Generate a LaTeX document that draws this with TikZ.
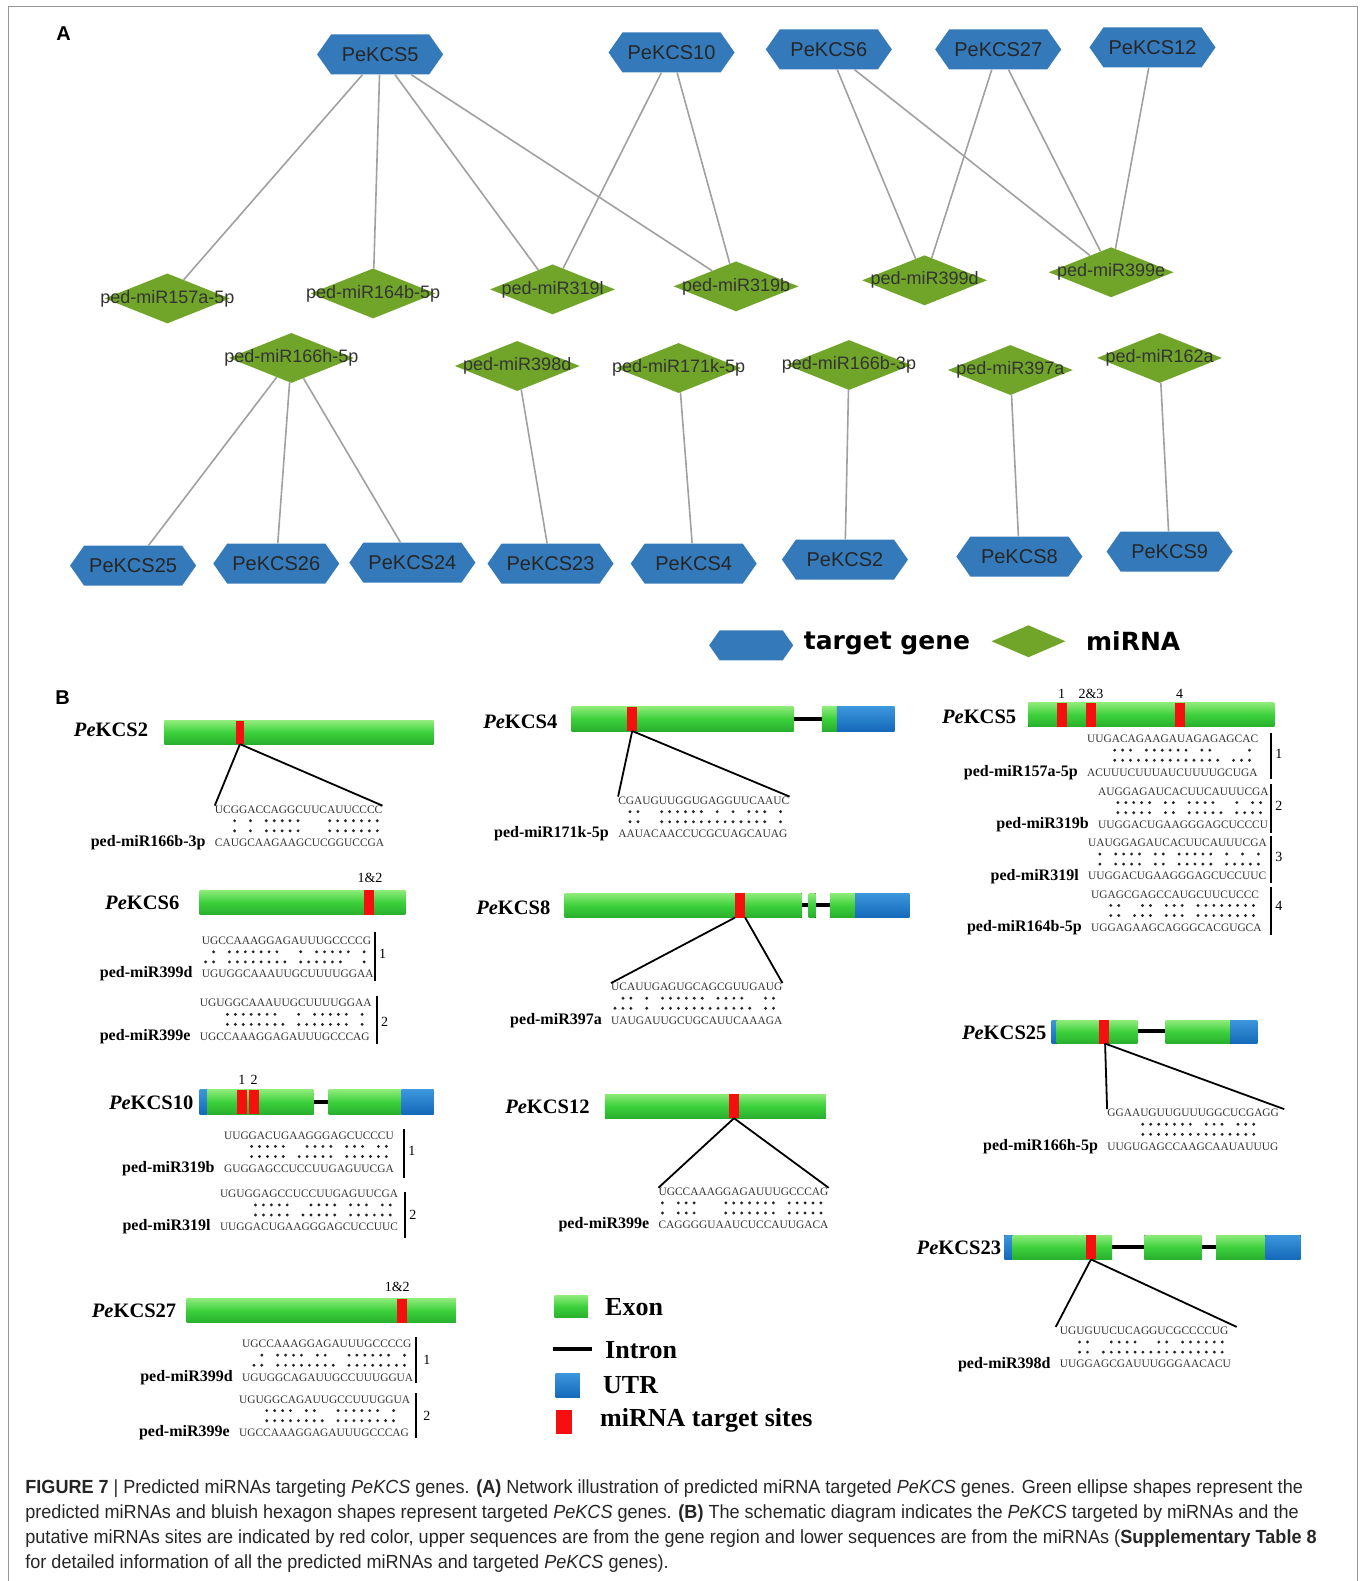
\documentclass[tikz,border=0pt]{standalone}
\usepackage{fontspec}
\setmainfont{Liberation Serif}
\newfontfamily\arialfont{Liberation Sans}
\newfontfamily\legendfont{DejaVu Sans}
\newfontfamily\capfont[FakeStretch=0.95]{Liberation Sans}
\usepackage{tikz}
\usetikzlibrary{shapes.geometric,shapes.symbols,positioning}
\usepackage{xcolor}
\definecolor{kcsblue}{RGB}{52,122,187}
\definecolor{mirgreen}{RGB}{112,165,42}
\definecolor{linkgray}{RGB}{160,160,160}
\definecolor{exhi}{RGB}{140,235,120}
\definecolor{exmid}{RGB}{60,208,60}
\definecolor{exlo}{RGB}{40,175,45}
\definecolor{utrhi}{RGB}{60,150,220}
\definecolor{utrlo}{RGB}{20,105,185}
\definecolor{sitered}{RGB}{245,15,15}
\definecolor{framegray}{RGB}{150,150,150}
\tikzset{
  kcs/.style={signal,signal to=east and west,signal pointer angle=110,fill=kcsblue,
    minimum width=126pt,minimum height=40pt,inner sep=0pt,text=black!85,
    font=\arialfont\fontsize{20}{20}\selectfont},
  mir/.style={diamond,fill=mirgreen,minimum width=125pt,minimum height=50pt,inner sep=0pt,
    text=black!80,font=\arialfont\fontsize{18}{18}\selectfont},
  mirlink/.style={linkgray,line width=1.6pt},
  panellab/.style={inner sep=0pt,font=\arialfont\bfseries\fontsize{20}{20}\selectfont},
  exon/.style={top color=exhi,bottom color=exlo,middle color=exmid},
  utr/.style={top color=utrhi,bottom color=utrlo},
  tsite/.style={fill=sitered},
  intron/.style={black,line width=4pt},
  zoomline/.style={black,line width=1.8pt},
  seq/.style={inner sep=0pt,text=black!80,font=\fontsize{11.4}{12}\selectfont},
  mirlab/.style={inner sep=0pt,font=\bfseries\fontsize{16}{16}\selectfont},
  genelab/.style={inner sep=0pt,anchor=east,font=\bfseries\fontsize{20.5}{20}\selectfont},
  num/.style={inner sep=0pt,font=\fontsize{14}{14}\selectfont},
  vbar/.style={black,line width=2pt},
  legtext/.style={inner sep=0pt,anchor=west,font=\bfseries\fontsize{26}{26}\selectfont},
}
\newcommand{\zw}[1]{\makebox[0pt]{#1}}
\newcommand{\gname}[1]{\textit{Pe}KCS#1}
% duplex: name, x, y, upper sequence, dots 1, dots 2, lower sequence, miRNA
\newcommand{\duplex}[8]{%
  \node[seq,anchor=west] (#1t) at (#2,#3) {#4};
  \foreach \k in {#5} \fill[black!85] (#2+\k*7.86-3.9,#3+11) circle (1.6pt);
  \foreach \k in {#6} \fill[black!85] (#2+\k*7.86-3.9,#3+21) circle (1.6pt);
  \node[seq,anchor=west] (#1b) at (#2,#3+33) {#7};
  \node[mirlab,left=9pt of #1b] (#1m) {#8};}

\begin{document}
\begin{tikzpicture}[x=1.008pt,y=-1.008pt]
  \useasboundingbox (0,0) rectangle (1349,1568);
  \draw[framegray,line width=0.8pt] (8,1568) -- (8,6) -- (1346,6) -- (1346,1568);

  % A: network
  \node[panellab] (labA) at (63,33) {A};
  \foreach \n/\x/\y in {5/377/54,10/666/52,6/822/49,27/990/49,12/1143/47,
                        25/132/561,26/274/559,24/409/558,23/546/559,4/688/559,
                        2/838/555,8/1011/552,9/1160/547}
    \node[kcs] (k\n) at (\x,\y) {PeKCS\n};
  \foreach \id/\lab/\x/\y in {m157a/157a-5p/166/296,m164b/164b-5p/370/291,m319l/319l/548/287,
                              m319b/319b/730/284,m399d/399d/917/278,m399e/399e/1102/270,
                              m166h/166h-5p/289/355,m398d/398d/513/363,m171k/171k-5p/673/365,
                              m166b/166b-3p/842/362,m397a/397a/1002/367,m162a/162a/1150/355}
    \node[mir] (\id) at (\x,\y) {\zw{ped-miR\lab}};
  \foreach \a/\b in {k5/m157a,k5/m164b,k5/m319l,k5/m319b,k10/m319l,k10/m319b,
                     k6/m399d,k6/m399e,k27/m399d,k27/m399e,k12/m399e,
                     m166h/k25,m166h/k26,m166h/k24,m398d/k23,m171k/k4,
                     m166b/k2,m397a/k8,m162a/k9}
    \draw[mirlink] (\a) -- (\b);
  \node[kcs,minimum width=84pt,minimum height=30pt] (legk) at (745,640) {};
  \node[inner sep=0pt,anchor=west,font=\legendfont\bfseries\fontsize{25}{25}\selectfont]
    (legkt) at (797,638) {target gene};
  \node[mir,minimum width=74pt,minimum height=32pt] (legm) at (1020,636) {};
  \node[inner sep=0pt,anchor=west,font=\legendfont\bfseries\fontsize{25}{25}\selectfont]
    (legmt) at (1077,636) {miRNA};

  % B: target sites
  \node[panellab] (labB) at (62,692) {B};

  \node[genelab] (g2) at (147,724) {\gname{2}};
  \fill[exon] (163,715) rectangle (430,738);
  \fill[tsite] (234,715) rectangle (242,738);
  \coordinate (g2s) at (238,738);
  \duplex{g2a}{213}{803}{UCGGACCAGGCUUCAUUCCCC}{3,5,7,8,9,10,11,15,16,17,18,19,20,21}
    {3,5,7,8,9,10,11,15,16,17,18,19,20,21}{CAUGCAAGAAGCUCGGUCCGA}{ped-miR166b-3p}
  \draw[zoomline] (g2s) -- (g2at.north west);
  \draw[zoomline] (g2s) -- (g2at.north east);

  \node[genelab] (g6) at (178,895) {\gname{6}};
  \fill[exon] (198,883) rectangle (402,907);
  \fill[tsite] (361,883) rectangle (371,907);
  \node[num] (g6n) at (367,871) {1\&2};
  \duplex{g6a}{200}{933}{UGCCAAAGGAGAUUUGCCCCG}{2,4,5,6,7,8,9,10,13,15,16,17,18,19,21}
    {1,2,4,5,6,7,8,9,10,11,13,14,15,16,17,18,21}{UGUGGCAAAUUGCUUUUGGAA}{ped-miR399d}
  \draw[vbar] (372,924) -- (372,973) node[num,pos=0.45,right=3pt] (g6v1) {1};
  \duplex{g6b}{198}{995}{UGUGGCAAAUUGCUUUUGGAA}{4,5,6,7,8,9,10,13,15,16,17,18,19,21}
    {4,5,6,7,8,9,10,11,13,14,15,16,17,18,19,21}{UGCCAAAGGAGAUUUGCCCAG}{ped-miR399e}
  \draw[vbar] (374,988) -- (374,1035) node[num,pos=0.55,right=3pt] (g6v2) {2};

  \node[genelab] (g10) at (192,1094) {\gname{10}};
  \draw[intron] (311,1093) -- (326,1093);
  \fill[utr] (198,1081) rectangle (206,1105);
  \fill[exon] (206,1081) rectangle (311,1105);
  \fill[tsite] (235,1081) rectangle (245,1105);
  \fill[tsite] (247,1081) rectangle (257,1105);
  \fill[exon] (326,1081) rectangle (398,1105);
  \fill[utr] (398,1081) rectangle (430,1105);
  \node[num] (g10n1) at (240,1071) {1};
  \node[num] (g10n2) at (252,1071) {2};
  \duplex{g10a}{222}{1126}{UUGGACUGAAGGGAGCUCCCU}{4,5,6,7,8,11,12,13,14,16,17,18,20,21}
    {4,5,6,7,8,10,11,12,13,14,16,17,18,19,20,21}{GUGGAGCCUCCUUGAGUUCGA}{ped-miR319b}
  \draw[vbar] (401,1120) -- (401,1168) node[num,pos=0.45,right=3pt] (g10v1) {1};
  \duplex{g10b}{218}{1184}{UGUGGAGCCUCCUUGAGUUCGA}{5,6,7,8,9,12,13,14,15,17,18,19,21,22}
    {5,6,7,8,9,11,12,13,14,15,17,18,19,20,21,22}{UUGGACUGAAGGGAGCUCCUUC}{ped-miR319l}
  \draw[vbar] (402,1182) -- (402,1228) node[num,pos=0.5,right=3pt] (g10v2) {2};

  \node[genelab] (g27) at (175,1300) {\gname{27}};
  \fill[exon] (185,1288) rectangle (452,1312);
  \fill[tsite] (394,1288) rectangle (404,1312);
  \node[num] (g27n) at (394,1276) {1\&2};
  \duplex{g27a}{240}{1333}{UGCCAAAGGAGAUUUGCCCCG}{3,5,6,7,8,10,11,14,15,16,17,18,19,21}
    {2,3,5,6,7,8,9,10,11,12,14,15,16,17,18,19,20,21}{UGUGGCAGAUUGCCUUUGGUA}{ped-miR399d}
  \draw[vbar] (413,1326) -- (413,1372) node[num,pos=0.5,right=6pt] (g27v1) {1};
  \duplex{g27b}{237}{1388}{UGUGGCAGAUUGCCUUUGGUA}{4,5,6,7,9,10,13,14,15,16,17,18,20}
    {4,5,6,7,8,9,10,11,13,14,15,16,17,18,19,20}{UGCCAAAGGAGAUUUGCCCAG}{ped-miR399e}
  \draw[vbar] (413,1382) -- (413,1426) node[num,pos=0.5,right=6pt] (g27v2) {2};

  \node[genelab] (g4) at (553,716) {\gname{4}};
  \draw[intron] (787,713) -- (815,713);
  \fill[exon] (567,701) rectangle (787,725);
  \fill[tsite] (622,701) rectangle (632,725);
  \fill[exon] (815,701) rectangle (830,725);
  \fill[utr] (830,701) rectangle (887,725);
  \coordinate (g4s) at (627,725);
  \duplex{g4a}{613}{794}{CGAUGUUGGUGAGGUUCAAUC}{2,3,6,7,8,9,10,11,13,15,17,18,19,21}
    {2,3,6,7,8,9,10,11,12,13,14,15,16,17,18,19,21}{AAUACAACCUCGCUAGCAUAG}{ped-miR171k-5p}
  \draw[zoomline] (g4s) -- (g4at.north west);
  \draw[zoomline] (g4s) -- (g4at.north east);

  \node[genelab] (g8) at (546,900) {\gname{8}};
  \draw[intron] (795,898) -- (823,898);
  \fill[exon] (560,886) rectangle (795,910);
  \fill[tsite] (729,886) rectangle (739,910);
  \fill[exon] (802,886) rectangle (809,910);
  \fill[exon] (823,886) rectangle (848,910);
  \fill[utr] (848,886) rectangle (902,910);
  \coordinate (g8sl) at (729,910);
  \coordinate (g8sr) at (739,910);
  \duplex{g8a}{606}{979}{UCAUUGAGUGCAGCGUUGAUG}{2,3,5,7,8,9,10,11,12,14,15,16,17,20,21}
    {1,2,3,5,7,8,9,10,11,12,13,14,15,16,17,18,20,21}{UAUGAUUGCUGCAUUCAAAGA}{ped-miR397a}
  \draw[zoomline] (g8sl) -- (g8at.north west);
  \draw[zoomline] (g8sr) -- (g8at.north east);

  \node[genelab] (g12) at (585,1098) {\gname{12}};
  \fill[exon] (600,1085) rectangle (819,1109);
  \fill[tsite] (723,1085) rectangle (733,1109);
  \coordinate (g12s) at (728,1109);
  \duplex{g12a}{653}{1182}{UGCCAAAGGAGAUUUGCCCAG}{1,3,4,5,9,10,11,12,13,14,15,17,18,19,20,21}
    {1,3,4,5,9,10,11,12,13,14,15,17,18,19,20,21}{CAGGGGUAAUCUCCAUUGACA}{ped-miR399e}
  \draw[zoomline] (g12s) -- (g12at.north west);
  \draw[zoomline] (g12s) -- (g12at.north east);

  \node[genelab] (g5) at (1008,711) {\gname{5}};
  \fill[exon] (1020,697) rectangle (1264,721);
  \foreach \a/\t in {1048/1,1077/2\&3,1165/4} {
    \fill[tsite] (\a,697) rectangle (\a+10,721);
    \node[num] at (\a+5,688) {\t};}
  \duplex{g5a}{1078}{733}{UUGACAGAAGAUAGAGAGCAC}{4,5,6,8,9,10,11,12,13,15,16,21}
    {4,5,...,17,19,20,21}{ACUUUCUUUAUCUUUUGCUGA}{ped-miR157a-5p}
  \draw[vbar] (1261,727) -- (1261,773) node[num,pos=0.45,right=3pt] (g5v1) {1};
  \duplex{g5b}{1089}{785}{AUGGAGAUCACUUCAUUUCGA}{3,4,5,6,7,9,10,12,13,14,15,18,20,21}
    {3,4,5,6,7,9,10,12,13,14,15,16,18,19,20,21}{UUGGACUGAAGGGAGCUCCCU}{ped-miR319b}
  \draw[vbar] (1261,778) -- (1261,826) node[num,pos=0.45,right=3pt] (g5v2) {2};
  \duplex{g5c}{1079}{836}{UAUGGAGAUCACUUCAUUUCGA}{2,4,5,6,7,9,10,12,13,14,15,16,18,20,22}
    {2,4,5,6,7,9,10,12,13,14,15,16,18,19,20,21,22}{UUGGACUGAAGGGAGCUCCUUC}{ped-miR319l}
  \draw[vbar] (1261,829) -- (1261,876) node[num,pos=0.45,right=3pt] (g5v3) {3};
  \duplex{g5d}{1082}{887}{UGAGCGAGCCAUGCUUCUCCC}{3,4,7,8,10,11,12,14,15,16,17,18,19,20,21}
    {3,4,6,7,8,10,11,12,14,15,16,17,18,19,20,21}{UGGAGAAGCAGGGCACGUGCA}{ped-miR164b-5p}
  \draw[vbar] (1261,880) -- (1261,927) node[num,pos=0.4,right=3pt] (g5v4) {4};

  \node[genelab] (g25) at (1038,1024) {\gname{25}};
  \draw[intron] (1128,1023) -- (1156,1023);
  \fill[utr] (1043,1012) rectangle (1048,1035);
  \fill[exon] (1048,1012) rectangle (1128,1035);
  \fill[tsite] (1090,1012) rectangle (1100,1035);
  \fill[exon] (1156,1012) rectangle (1220,1035);
  \fill[utr] (1220,1012) rectangle (1247,1035);
  \coordinate (g25s) at (1096,1035);
  \duplex{g25a}{1098}{1104}{GGAAUGUUGUUUGGCUCGAGG}{5,6,7,8,9,10,11,13,14,15,17,18,19}
    {5,6,...,19}{UUGUGAGCCAAGCAAUAUUUG}{ped-miR166h-5p}
  \draw[zoomline] (g25s) -- (g25at.north west);
  \draw[zoomline] (g25s) -- ([xshift=5pt]g25at.north east);

  \node[genelab] (g23) at (993,1238) {\gname{23}};
  \draw[intron] (1103,1237) -- (1206,1237);
  \fill[utr] (996,1225) rectangle (1004,1249);
  \fill[exon] (1004,1225) rectangle (1103,1249);
  \fill[tsite] (1077,1225) rectangle (1087,1249);
  \fill[exon] (1135,1225) rectangle (1192,1249);
  \fill[exon] (1206,1225) rectangle (1255,1249);
  \fill[utr] (1255,1225) rectangle (1290,1249);
  \coordinate (g23s) at (1082,1249);
  \duplex{g23a}{1051}{1320}{UGUGUUCUCAGGUCGCCCCUG}{3,4,7,8,9,10,13,14,16,17,18,19,20,21}
    {3,4,6,7,...,21}{UUGGAGCGAUUUGGGAACACU}{ped-miR398d}
  \draw[zoomline] (g23s) -- ([xshift=-4pt]g23at.north west);
  \draw[zoomline] (g23s) -- ([xshift=8pt]g23at.north east);

  % legend of B
  \fill[exon] (550,1285) rectangle (583,1307);
  \node[legtext] (lexon) at (600,1296) {Exon};
  \draw[intron] (548,1338) -- (587,1338);
  \node[legtext] (lintron) at (600,1339) {Intron};
  \fill[utr] (551,1362) rectangle (575,1386);
  \node[legtext] (lutr) at (598,1374) {UTR};
  \fill[tsite] (551,1398) rectangle (567,1422);
  \node[legtext] (lsite) at (595,1409) {miRNA target sites};

  % caption
  \node[anchor=north west,inner sep=0pt,align=left,text=black!85,
        font=\capfont\fontsize{19}{25}\selectfont] (caption) at (25,1467) {%
    \textbf{FIGURE 7} | Predicted miRNAs targeting \textit{PeKCS} genes. \textbf{(A)} Network illustration of predicted miRNA targeted \textit{PeKCS} genes. Green ellipse shapes represent the\\
    predicted miRNAs and bluish hexagon shapes represent targeted \textit{PeKCS} genes. \textbf{(B)} The schematic diagram indicates the \textit{PeKCS} targeted by miRNAs and the\\
    putative miRNAs sites are indicated by red color, upper sequences are from the gene region and lower sequences are from the miRNAs (\textbf{Supplementary Table 8}\\
    for detailed information of all the predicted miRNAs and targeted \textit{PeKCS} genes).};
\end{tikzpicture}
\end{document}
